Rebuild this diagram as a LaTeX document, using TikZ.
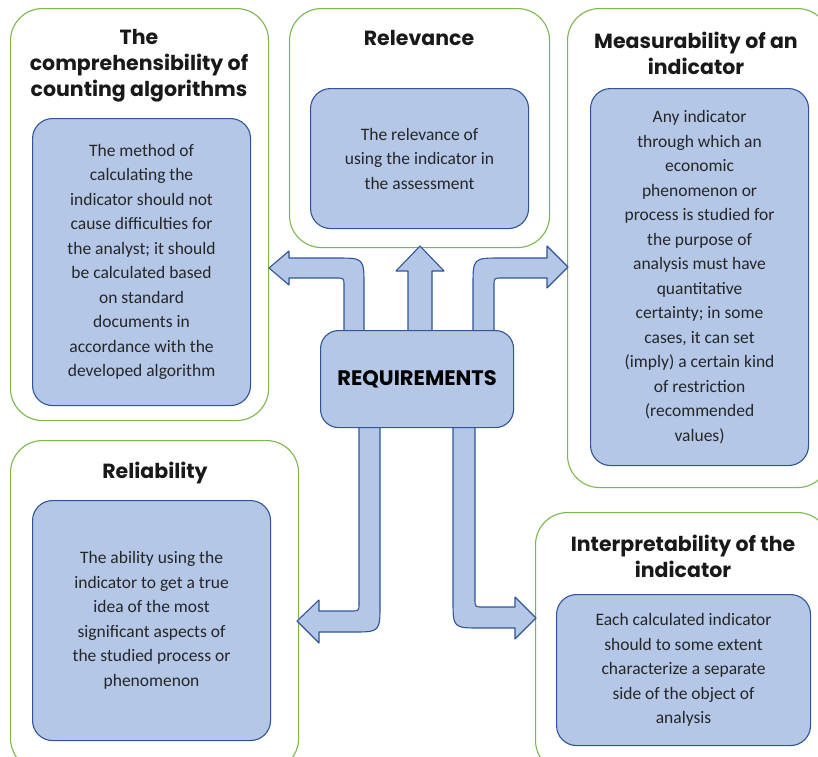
\documentclass[tikz,border=0pt]{standalone}
\usepackage{fontspec}
\setmainfont{Carlito}
\newfontfamily\titlefont{Poppins}
\definecolor{gline}{HTML}{7DB64F}
\definecolor{bfill}{HTML}{B4C7E7}
\definecolor{bline}{HTML}{2F5597}
\begin{document}
\begin{tikzpicture}[x=1pt,y=-1pt,
  outerbox/.style={draw=gline, line width=1.1pt, rounded corners=32pt, inner sep=0pt, anchor=north west},
  innerbox/.style={draw=bline, fill=bfill, line width=1.1pt, rounded corners=20pt, inner sep=0pt, anchor=north west, align=center, font=\fontsize{17.5}{24.5}\selectfont, text=black!85},
  ttl/.style={align=center, font=\titlefont\bfseries\fontsize{20.5}{26}\selectfont, text=black!90},
  barrow/.style={draw=bline, fill=bfill, line width=1.1pt, line join=round}]
\useasboundingbox (0,0) rectangle (818,756);
% outer boxes
\node[outerbox, minimum width=258pt, minimum height=412pt] (o1) at (10,8) {};
\node[outerbox, minimum width=260pt, minimum height=239pt] (o2) at (289,8) {};
\node[outerbox, minimum width=262pt, minimum height=479pt] (o3) at (567,8) {};
\node[outerbox, minimum width=288pt, minimum height=330pt] (o4) at (10,440) {};
\node[outerbox, minimum width=294pt, minimum height=260pt] (o5) at (535,512) {};
% titles
\node[ttl] (t1) at (139,66) {The\\comprehensibility of\\counting algorithms};
\node[ttl] (t2) at (419,38) {Relevance};
\node[ttl] (t3) at (696,53) {Measurability of an\\indicator};
\node[ttl] (t4) at (155,473) {Reliability};
\node[ttl] (t5) at (683,556) {Interpretability of the\\indicator};
% inner boxes
\node[innerbox, minimum width=218pt, minimum height=287pt] (i1) at (32,118) {The method of\\calculating the\\indicator should not\\cause difficulties for\\the analyst; it should\\be calculated based\\on standard\\documents in\\accordance with the\\developed algorithm};
\node[innerbox, minimum width=218pt, minimum height=140pt] (i2) at (310,88) {The relevance of\\using the indicator in\\the assessment};
\node[innerbox, minimum width=218pt, minimum height=377pt] (i3) at (590,88) {Any indicator\\through which an\\economic\\phenomenon or\\process is studied for\\the purpose of\\analysis must have\\quantitative\\certainty; in some\\cases, it can set\\(imply) a certain kind\\of restriction\\(recommended\\values)};
\node[innerbox, minimum width=238pt, minimum height=240pt] (i4) at (32,500) {The ability using the\\indicator to get a true\\idea of the most\\significant aspects of\\the studied process or\\phenomenon};
\node[innerbox, minimum width=254pt, minimum height=151pt] (i5) at (556,594) {Each calculated indicator\\should to some extent\\characterize a separate\\side of the object of\\analysis};
% block arrows
\draw[barrow] (344,340) -- (344,286) .. controls (344,278) .. (336,278) -- (289,278) -- (289,285) -- (269,268) -- (289,251) -- (289,258) -- (336,258) .. controls (364,258) .. (364,286) -- (364,340) -- cycle;
\draw[barrow] (408,340) -- (408,271) -- (396,271) -- (420,246) -- (444,271) -- (432,271) -- (432,340) -- cycle;
\draw[barrow] (473,340) -- (473,286) .. controls (473,258) .. (501,258) -- (547,258) -- (547,246) -- (568,267) -- (547,288) -- (547,278) -- (502,278) .. controls (494,278) .. (494,286) -- (494,340) -- cycle;
\draw[barrow] (359,417) -- (359,603) .. controls (359,611) .. (351,611) -- (319,611) -- (319,600) -- (297,621) -- (319,643) -- (319,632) -- (352,632) .. controls (380,632) .. (380,604) -- (380,417) -- cycle;
\draw[barrow] (453,417) -- (453,600) .. controls (453,628) .. (481,628) -- (515,628) -- (515,639) -- (536,618) -- (515,597) -- (515,607) -- (483,607) .. controls (475,607) .. (475,599) -- (475,417) -- cycle;
% center
\node[draw=bline, fill=bfill, line width=1.1pt, rounded corners=18pt, minimum width=193pt, minimum height=97pt, anchor=north west, inner sep=0pt, font=\titlefont\bfseries\fontsize{21}{24}\selectfont] (req) at (320,330) {REQUIREMENTS};
\end{tikzpicture}
\end{document}
